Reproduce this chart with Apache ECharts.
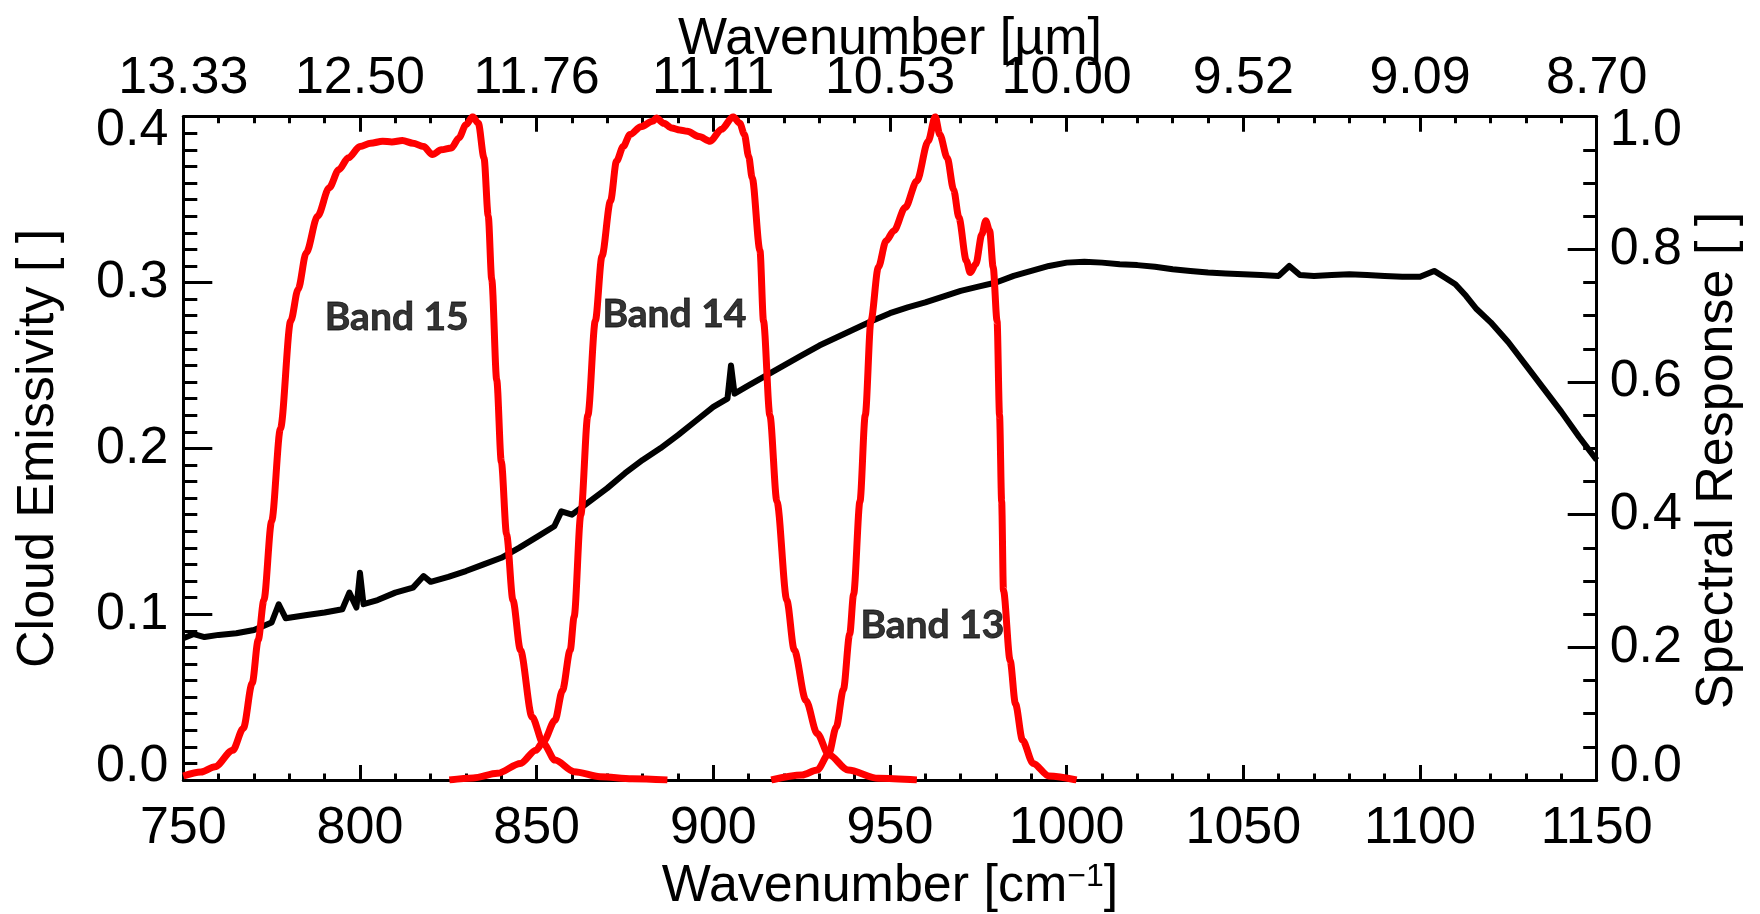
<!DOCTYPE html>
<html>
<head>
<meta charset="utf-8">
<script src="https://cdn.jsdelivr.net/npm/echarts@6/dist/echarts.min.js"></script>
<style>
html,body{margin:0;padding:0;background:#ffffff;}
#chart{width:1760px;height:914px;}
</style>
</head>
<body>
<div id="chart"></div>
<script>
// ---- data ----
// Cloud emissivity (left axis) vs wavenumber [cm-1]
const cloudEmissivity = [
  [750,0.0855],[753,0.0880],[756,0.0862],[760,0.0875],[765,0.0885],[770,0.0905],[775,0.0950],
  [777,0.1060],[779,0.0975],[785,0.0995],[790,0.1010],[795,0.1030],[797,0.1130],[799,0.1040],
  [800,0.1250],[801,0.1060],[805,0.1085],[810,0.1130],[815,0.1160],[818,0.1230],[820,0.1195],
  [825,0.1225],[830,0.1260],[835,0.1300],[840,0.1340],[845,0.1400],[850,0.1465],[855,0.1530],
  [857,0.1620],[860,0.1600],[865,0.1680],[870,0.1760],[875,0.1850],[880,0.1930],[885,0.2000],
  [890,0.2080],[895,0.2165],[900,0.2250],[904,0.2300],[905,0.2500],[906,0.2330],[910,0.2380],
  [915,0.2440],[920,0.2500],[925,0.2560],[930,0.2620],[935,0.2670],[940,0.2720],[945,0.2770],
  [950,0.2815],[955,0.2850],[960,0.2880],[965,0.2915],[970,0.2950],[975,0.2975],[980,0.3000],
  [985,0.3040],[990,0.3070],[995,0.3100],[1000,0.3120],[1005,0.3125],[1010,0.3120],[1015,0.3110],
  [1020,0.3105],[1025,0.3095],[1030,0.3080],[1035,0.3070],[1040,0.3060],[1045,0.3055],[1050,0.3050],
  [1055,0.3045],[1060,0.3040],[1063,0.3100],[1066,0.3045],[1070,0.3040],[1075,0.3045],[1080,0.3050],
  [1085,0.3045],[1090,0.3040],[1095,0.3035],[1100,0.3035],[1104,0.3070],[1107,0.3030],[1110,0.2990],
  [1113,0.2920],[1116,0.2840],[1120,0.2760],[1125,0.2640],[1130,0.2500],[1135,0.2360],[1140,0.2220],
  [1145,0.2070],[1150,0.1930]
];
// Spectral responses (right axis)
const band15 = [
  [750,0.006],[755,0.012],[759,0.020],[764,0.045],[767,0.078],[769.5,0.146],[771.2,0.211],
  [772.8,0.271],[775,0.39],[777.5,0.53],[780.4,0.692],[782.5,0.74],[784.8,0.795],[788,0.85],
  [791.3,0.893],[794,0.92],[796.7,0.938],[800,0.955],[803,0.960],[806.4,0.963],[809,0.962],
  [812,0.964],[815,0.960],[818,0.955],[820.5,0.943],[823,0.950],[825.9,0.953],[828,0.968],
  [830,0.988],[831.9,1.0],[833.5,0.99],[835.1,0.938],[836.3,0.85],[837.3,0.754],[838.7,0.603],
  [840,0.48],[841.5,0.37],[843.3,0.271],[845.4,0.196],[848.7,0.095],[851.9,0.055],[855.2,0.030],
  [860.6,0.0126],[868,0.005],[877,0.002],[887,0.0]
];
const band14 = [
  [825.3,0.0],[832,0.003],[838.9,0.010],[845.4,0.025],[849.8,0.045],[851.9,0.058],[855.2,0.090],
  [857.3,0.135],[859.5,0.196],[860.6,0.246],[862.5,0.40],[864.5,0.55],[866.6,0.692],[868.5,0.79],
  [870.9,0.873],[872.6,0.933],[874.5,0.955],[876.4,0.973],[879.5,0.985],[882.8,0.993],[883.9,0.998],
  [886,0.990],[888.2,0.983],[890.5,0.980],[892.6,0.978],[896,0.970],[899.1,0.963],[902.3,0.981],
  [905.6,1.0],[907.5,0.99],[908.8,0.973],[910,0.94],[911,0.908],[913.2,0.798],[914.2,0.692],
  [916,0.55],[918,0.42],[920.8,0.271],[922.9,0.196],[926.2,0.120],[929.4,0.070],[932.7,0.038],
  [938.1,0.015],[946.7,0.0025],[957.6,0.0]
];
const band13 = [
  [916.4,0.0],[925.1,0.0075],[929.4,0.015],[932.7,0.040],[934.8,0.080],[936.8,0.136],[938.6,0.220],
  [939.7,0.280],[941.5,0.42],[943,0.55],[944.6,0.692],[946.7,0.773],[948.9,0.813],[951.1,0.828],
  [954.3,0.863],[957.6,0.903],[960.8,0.963],[962.8,1.0],[964.1,0.973],[966.2,0.938],[968,0.89],
  [969.5,0.848],[971.6,0.783],[972.7,0.765],[974.3,0.778],[976,0.823],[977.1,0.843],[978.2,0.828],
  [979.2,0.773],[980.3,0.692],[981,0.55],[981.6,0.42],[982.1,0.286],[984,0.18],[985.5,0.115],
  [987.5,0.06],[990.5,0.025],[995,0.006],[1002.8,0.0]
];
// Tick labels
const bottomTickLabels = ['750','800','850','900','950','1000','1050','1100','1150'];
const topTickLabels = ['13.33','12.50','11.76','11.11','10.53','10.00','9.52','9.09','8.70'];
const leftTickLabels = ['0.0','0.1','0.2','0.3','0.4'];
const rightTickLabels = ['0.0','0.2','0.4','0.6','0.8','1.0'];
// Band annotations: [wavenumber, emissivity, text]
const bandLabels = [[810.4,0.279,'Band 15'],[889.0,0.281,'Band 14'],[962.0,0.093,'Band 13']];

// ---- chart ----
const FONT = 'Liberation Sans';
const FS = 52;
const chart = echarts.init(document.getElementById('chart'), null, {renderer:'canvas'});

const axisLineStyle = {color:'#000', width:3};
function baseText(extra){ return Object.assign({fontFamily:FONT, fontSize:FS, color:'#000'}, extra||{}); }
const yRich = {
  n: baseText(),
  lo: baseText({padding:[0,0,27,0]}),
  hi: baseText({padding:[28,0,0,0]})
};

const option = {
  animation:false,
  backgroundColor:'#ffffff',
  grid:{left:183.3, right:163.3, top:116.7, bottom:134, containLabel:false, outerBoundsMode:'none'},
  xAxis:[
    {
      type:'value', position:'bottom', min:750, max:1150, interval:50,
      axisLine:{show:true, onZero:false, lineStyle:axisLineStyle},
      axisTick:{show:true, inside:true, length:15, lineStyle:{color:'#000', width:3}},
      minorTick:{show:true, splitNumber:5, length:6.5, lineStyle:{color:'#000', width:3}},
      splitLine:{show:false}, minorSplitLine:{show:false},
      axisLabel:{margin:23, fontFamily:FONT, fontSize:FS, color:'#000',
        formatter:(v)=>bottomTickLabels[Math.round((v-750)/50)]},
      name:'Wavenumber [cm{sup|−1}]', nameLocation:'middle', nameGap:81, nameMoveOverlap:false,
      nameTextStyle:{fontFamily:FONT, fontSize:FS, color:'#000', lineHeight:52,
        rich:{sup:{fontFamily:FONT, fontSize:32, color:'#000', verticalAlign:'top', lineHeight:52}}}
    },
    {
      type:'value', position:'top', min:750, max:1150, interval:50,
      axisLine:{show:true, onZero:false, lineStyle:axisLineStyle},
      axisTick:{show:true, inside:true, length:15, lineStyle:{color:'#000', width:3}},
      minorTick:{show:true, splitNumber:5, length:6.5, lineStyle:{color:'#000', width:3}},
      splitLine:{show:false}, minorSplitLine:{show:false},
      axisLabel:{margin:12, fontFamily:FONT, fontSize:FS, color:'#000',
        formatter:(v)=>topTickLabels[Math.round((v-750)/50)]},
      name:'Wavenumber [µm]', nameLocation:'middle', nameGap:51, nameMoveOverlap:false,
      nameTextStyle:{fontFamily:FONT, fontSize:FS, color:'#000', lineHeight:52}
    }
  ],
  yAxis:[
    {
      type:'value', position:'left', min:0, max:0.4, interval:0.1,
      axisLine:{show:true, onZero:false, lineStyle:axisLineStyle},
      axisTick:{show:true, inside:true, length:29, lineStyle:{color:'#000', width:3}},
      minorTick:{show:true, splitNumber:10, length:14, lineStyle:{color:'#000', width:3}},
      splitLine:{show:false}, minorSplitLine:{show:false},
      axisLabel:{margin:15, fontFamily:FONT, fontSize:FS, color:'#000', rich:yRich,
        formatter:(v)=>{ const i=Math.round(v/0.1); const t=leftTickLabels[i];
          return i===0 ? '{lo|'+t+'}' : (i===leftTickLabels.length-1 ? '{hi|'+t+'}' : '{n|'+t+'}'); }},
      name:'Cloud Emissivity [ ]', nameLocation:'middle', nameRotate:90, nameGap:119, nameMoveOverlap:false,
      nameTextStyle:{fontFamily:FONT, fontSize:FS, color:'#000', lineHeight:52}
    },
    {
      type:'value', position:'right', min:0, max:1, interval:0.2,
      axisLine:{show:true, onZero:false, lineStyle:axisLineStyle},
      axisTick:{show:true, inside:true, length:29, lineStyle:{color:'#000', width:3}},
      minorTick:{show:true, splitNumber:4, length:13.5, lineStyle:{color:'#000', width:3}},
      splitLine:{show:false}, minorSplitLine:{show:false},
      axisLabel:{margin:13, fontFamily:FONT, fontSize:FS, color:'#000', rich:yRich,
        formatter:(v)=>{ const i=Math.round(v/0.2); const t=rightTickLabels[i];
          return i===0 ? '{lo|'+t+'}' : (i===rightTickLabels.length-1 ? '{hi|'+t+'}' : '{n|'+t+'}'); }},
      name:'Spectral Response [ ]', nameLocation:'middle', nameRotate:90, nameGap:95, nameMoveOverlap:false,
      nameTextStyle:{fontFamily:FONT, fontSize:FS, color:'#000', lineHeight:52, padding:[0,24,0,0]}
    }
  ],
  series:[
    {
      name:'Cloud Emissivity', type:'line', xAxisIndex:0, yAxisIndex:0, data:cloudEmissivity,
      showSymbol:false, symbol:'none', smooth:false, z:2,
      lineStyle:{color:'#000', width:6, join:'round'}
    },
    {
      name:'Band 15', type:'line', xAxisIndex:0, yAxisIndex:1, data:band15,
      showSymbol:false, symbol:'none', smooth:0.3, smoothMonotone:'x', z:3,
      lineStyle:{color:'#ff0000', width:7}
    },
    {
      name:'Band 14', type:'line', xAxisIndex:0, yAxisIndex:1, data:band14,
      showSymbol:false, symbol:'none', smooth:0.3, smoothMonotone:'x', z:3,
      lineStyle:{color:'#ff0000', width:7}
    },
    {
      name:'Band 13', type:'line', xAxisIndex:0, yAxisIndex:1, data:band13,
      showSymbol:false, symbol:'none', smooth:0.3, smoothMonotone:'x', z:3,
      lineStyle:{color:'#ff0000', width:7}
    },
    {
      name:'labels', type:'scatter', xAxisIndex:0, yAxisIndex:0, data:bandLabels,
      symbol:'circle', symbolSize:2, itemStyle:{color:'rgba(255,255,255,0)'}, z:5, silent:true,
      label:{show:true, position:'inside', formatter:(p)=>p.data[2],
        fontFamily:'Lato', fontWeight:'bold', fontSize:39, color:'#000',
        textBorderColor:'#000', textBorderWidth:0.8}
    }
  ]
};
chart.setOption(option);
</script>
</body>
</html>
